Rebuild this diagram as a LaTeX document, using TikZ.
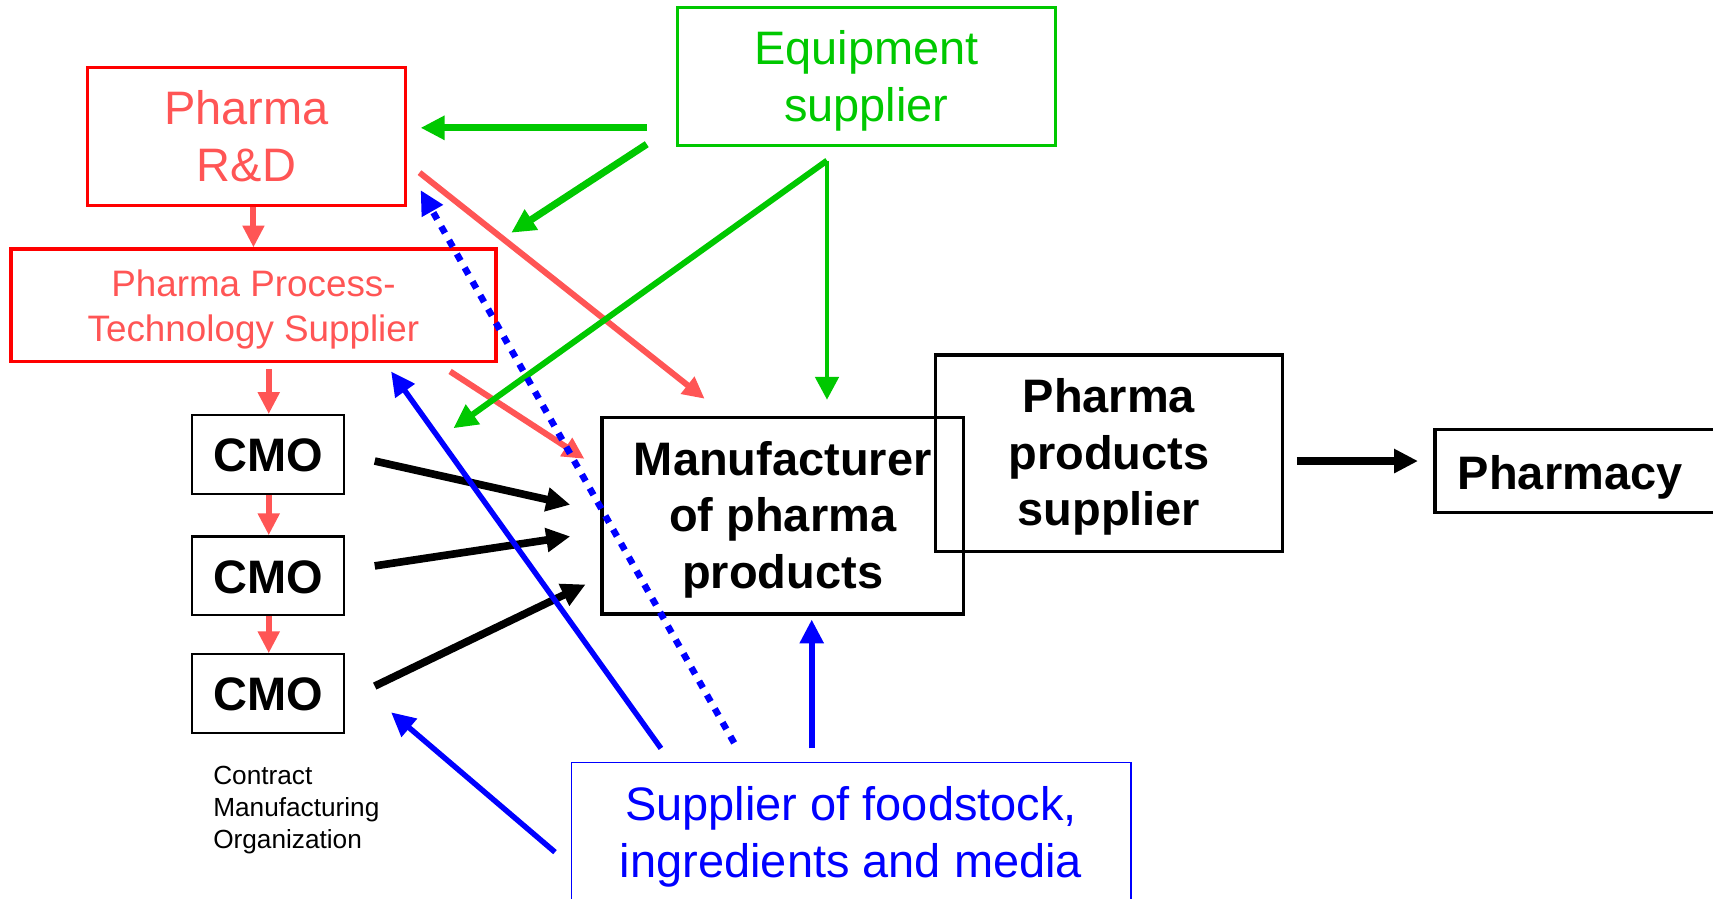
\documentclass[tikz,border=0pt]{standalone}
\usepackage{fontspec}
\setmainfont{Liberation Sans}
\usetikzlibrary{arrows.meta}
\definecolor{eqgreen}{RGB}{0,200,0}
\definecolor{rdred}{RGB}{255,0,0}
\definecolor{salmon}{RGB}{255,85,85}
\definecolor{supblue}{RGB}{0,0,255}
\newcommand{\lowtxt}[2]{\raisebox{-#1}[\height][\depth]{\begin{tabular}{@{}c@{}}#2\end{tabular}}}
\begin{document}
\begin{tikzpicture}[x=1pt,y=-1pt,
  box/.style={draw, rectangle, inner sep=0pt, align=center},
  bigtext/.style={font=\fontsize{43}{52}\selectfont},
  boldtext/.style={font=\fontsize{43}{52}\selectfont\bfseries},
  thickarrow/.style={-{Triangle[length=22pt,width=21pt]}},
  thinarrow/.style={-{Triangle[length=20pt,width=19pt]}},
  greenline/.style={draw=eqgreen, line width=6.5pt, thickarrow},
  redline/.style={draw=salmon, line width=5.5pt, thinarrow},
  blackline/.style={draw=black, line width=7pt, thickarrow},
  blueline/.style={draw=supblue, line width=5pt, thickarrow},
  cmobox/.style={box, boldtext, line width=2pt, minimum width=139pt, minimum height=72pt},
]
\useasboundingbox (0,0) rectangle (1568,822);

% boxes
\node[box, bigtext, draw=eqgreen, text=eqgreen, line width=3pt,
      minimum width=346pt, minimum height=126pt] (eq) at (793,70) {\lowtxt{4.5pt}{Equipment\\supplier}};
\node[box, bigtext, draw=rdred, text=salmon, line width=3pt,
      minimum width=291pt, minimum height=126pt] (rd) at (225.5,125) {Pharma\\R\&D};
\node[box, font=\fontsize{33.7}{41}\selectfont, draw=rdred, text=salmon, line width=3pt,
      minimum width=444pt, minimum height=103pt] (pt) at (232,279.5) {\lowtxt{4pt}{Pharma Process-\\Technology Supplier}};
\node[cmobox] (cmoa) at (245.5,416) {\raisebox{-1pt}[\height][\depth]{CMO}};
\node[cmobox] (cmob) at (245.5,527) {\raisebox{-1pt}[\height][\depth]{CMO}};
\node[cmobox] (cmoc) at (245.5,635) {\raisebox{-1pt}[\height][\depth]{CMO}};
\node[anchor=north west, inner sep=0pt, align=left, font=\fontsize{24}{29.5}\selectfont]
      (cmolabel) at (195,701) {Contract\\Manufacturing\\Organization};
\node[box, boldtext, line width=3pt, minimum width=331pt, minimum height=180pt] (man) at (716.5,472)
      {\lowtxt{4.5pt}{Manufacturer\\of pharma\\products}};
\node[box, boldtext, line width=3pt, minimum width=318pt, minimum height=180pt] (pps) at (1015,415)
      {\lowtxt{4pt}{Pharma\\products\\supplier}};
\node[box, boldtext, line width=3pt, anchor=west, minimum height=76pt, inner xsep=21pt,
      text width=226pt, align=left] (pharm) at (1312,431) {\raisebox{-5.5pt}[\height][\depth]{Pharmacy}};
\node[box, bigtext, draw=supblue, text=supblue, line width=1.5pt,
      minimum width=512pt, minimum height=130pt] (sup) at (779,763)
      {\lowtxt{3.5pt}{Supplier of foodstock,\\ingredients and media}};

% connector end points
\coordinate (g1s) at (592,117);  \coordinate (g1e) at (385,117);
\coordinate (g2s) at (592,132);  \coordinate (g2e) at (468,213);
\coordinate (gv)  at (757,147);
\coordinate (g3e) at (415,392);  \coordinate (g4e) at (757,366);
\coordinate (r1s) at (384,158);  \coordinate (r1e) at (645,365);
\coordinate (r2s) at (412,340);  \coordinate (r2e) at (535,420);
\coordinate (b1s) at (343,422);  \coordinate (b1e) at (522,462);
\coordinate (b2s) at (343,518);  \coordinate (b2e) at (522,491);
\coordinate (b3s) at (343,628);  \coordinate (b3e) at (536,535);
\coordinate (b4s) at (1187,422); \coordinate (b4e) at (1298,422);
\coordinate (u1s) at (605,685);  \coordinate (u1e) at (358,340);
\coordinate (u2s) at (672,680);  \coordinate (u2e) at (385,174);
\coordinate (u3s) at (508,780);  \coordinate (u3e) at (358,652);
\coordinate (u4s) at (743,685);  \coordinate (u4e) at (743,567);

% red vertical chain
\draw[redline] (rd.south -| 232,0) -- (pt.north -| 232,0);
\draw[redline] (246,338) -- (cmoa.north -| 246,0);
\draw[redline] (cmoa.south -| 246,0) -- (cmob.north -| 246,0);
\draw[redline] (cmob.south -| 246,0) -- (cmoc.north -| 246,0);

% red diagonals
\draw[redline] (r1s) -- (r1e);
\draw[redline] (r2s) -- (r2e);

% green
\draw[greenline] (g1s) -- (g1e);
\draw[greenline] (g2s) -- (g2e);
\draw[greenline, line width=5.5pt] (gv) -- (g3e);
\draw[draw=eqgreen, line width=4.5pt, -{Triangle[length=21pt,width=21pt]}] (gv) -- (g4e);

% black
\draw[blackline] (b1s) -- (b1e);
\draw[blackline] (b2s) -- (b2e);
\draw[blackline] (b3s) -- (b3e);
\draw[blackline] (b4s) -- (b4e);

% blue
\draw[blueline] (u1s) -- (u1e);
\draw[blueline, line width=6pt, dash pattern=on 7pt off 7.5pt] (u2s) -- (u2e);
\draw[blueline] (u3s) -- (u3e);
\draw[blueline, line width=5.5pt] (u4s) -- (u4e);
\end{tikzpicture}
\end{document}
